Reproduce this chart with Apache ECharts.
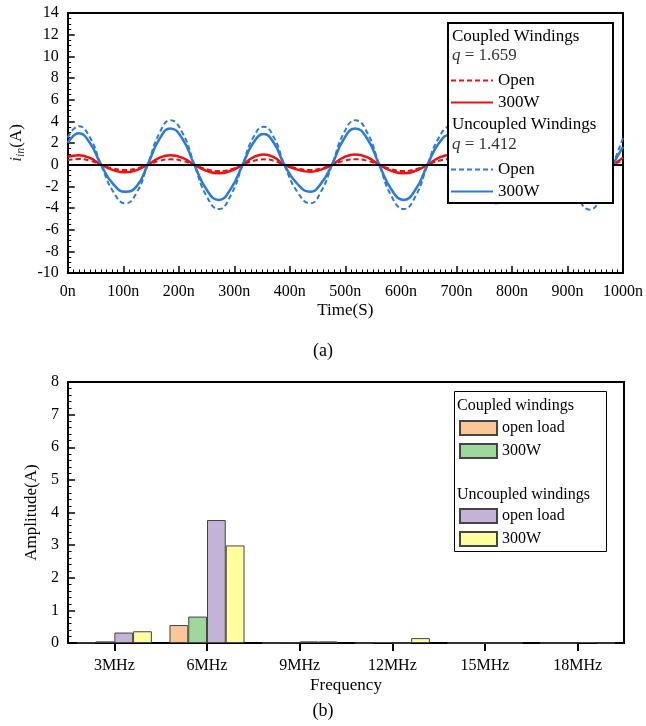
<!DOCTYPE html>
<html>
<head>
<meta charset="utf-8">
<script src="https://cdn.jsdelivr.net/npm/echarts@6/dist/echarts.min.js"></script>
<style>
  html, body { margin: 0; padding: 0; background: #fff; }
  #chart { width: 646px; height: 726px; }
</style>
</head>
<body>
<div id="chart"></div>
<script>
// (a) input current waveforms (time in ns, current in A)
const timeNs = [0, 20, 40, 60, 82, 104, 124, 144, 165, 185, 207, 228, 250, 272, 294, 315, 334, 353, 372, 390,
  414, 437, 456, 476, 497, 518, 540, 561, 583, 605, 627, 648, 668, 688, 708, 728, 749, 770, 792, 815,
  834, 852, 874, 895, 918, 940, 961, 982, 1000];
const coupledOpen = [0.42, 0.52, 0.37, 0, -0.35, -0.5, -0.35, 0, 0.35, 0.49, 0.35, 0, -0.42, -0.59, -0.42, 0, 0.35, 0.49, 0.35, 0,
  -0.35, -0.5, -0.35, 0, 0.35, 0.5, 0.35, 0, -0.42, -0.59, -0.42, 0, 0.35, 0.5, 0.35, 0, -0.35, -0.5, -0.35, 0,
  0.35, 0.5, 0.35, 0, -0.42, -0.59, -0.42, 0, 0.42];
const coupled300W = [0.73, 0.88, 0.62, 0, -0.5, -0.71, -0.5, 0, 0.62, 0.88, 0.62, 0, -0.57, -0.8, -0.56, 0, 0.67, 0.95, 0.67, 0,
  -0.46, -0.65, -0.46, 0, 0.67, 0.95, 0.67, 0, -0.57, -0.8, -0.56, 0, 0.63, 0.9, 0.63, 0, -0.5, -0.7, -0.5, 0,
  0.63, 0.9, 0.63, 0, -0.57, -0.8, -0.56, 0, 0.65];
const uncoupledOpen = [2.5, 3.55, 2.5, 0, -2.5, -3.57, -2.6, 0, 2.9, 4.1, 2.9, 0, -2.9, -4.1, -2.8, 0, 2.5, 3.5, 2.45, 0,
  -2.55, -3.57, -2.5, 0, 2.9, 4.1, 2.9, 0, -2.9, -4.1, -2.85, 0, 2.45, 3.5, 2.45, 0, -2.5, -3.57, -2.5, 0,
  2.9, 4.1, 2.9, 0, -2.9, -4.15, -2.9, 0, 2.45];
const uncoupled300W = [2.0, 2.9, 2.0, 0, -1.8, -2.5, -2.0, 0, 2.35, 3.35, 2.35, 0, -2.3, -3.26, -2.2, 0, 2.0, 2.82, 1.95, 0,
  -1.8, -2.5, -1.75, 0, 2.35, 3.35, 2.35, 0, -2.3, -3.25, -2.25, 0, 1.95, 2.75, 1.95, 0, -1.8, -2.5, -1.8, 0,
  2.3, 3.3, 2.3, 0, -2.3, -3.26, -2.3, 0, 1.65];
const timeTicks = [0, 1000, 100];
const currentTicks = [-10, 14, 2];

// (b) harmonic amplitudes
const freqLabels = ['3MHz', '6MHz', '9MHz', '12MHz', '15MHz', '18MHz'];
const ampCoupledOpen = [0.01, 0.55, 0.0, 0.0, 0.0, 0.0];
const ampCoupled300W = [0.05, 0.81, 0.01, 0.03, 0.0, 0.0];
const ampUncoupledOpen = [0.32, 3.77, 0.05, 0.0, 0.0, 0.03];
const ampUncoupled300W = [0.36, 2.99, 0.05, 0.15, 0.0, 0.0];
const ampTicks = [0, 8, 1];

const legendNames = {
  cOpen: 'Open', c300: '300W', uOpen: 'Open', u300: '300W',
  bcOpen: 'open load', bc300: '300W', buOpen: 'open load', bu300: '300W'
};

const FONT = '"Liberation Serif", "Times New Roman", serif';
const RED = '#ee1111';
const BLUE = '#2a7bd9';
const pairs = ys => timeNs.map((t, i) => [t, ys[i]]);

const frameX = (grid, min, max) => ({
  gridIndex: grid, position: 'top', type: grid === 0 ? 'value' : 'category',
  min: grid === 0 ? min : undefined, max: grid === 0 ? max : undefined,
  data: grid === 1 ? freqLabels : undefined,
  axisLine: { show: true, onZero: false, lineStyle: { color: '#000', width: 2 } },
  axisTick: { show: false }, axisLabel: { show: false }, splitLine: { show: false }
});
const frameY = (grid, min, max) => ({
  gridIndex: grid, position: 'right', type: 'value', min: min, max: max,
  axisLine: { show: true, onZero: false, lineStyle: { color: '#000', width: 2 } },
  axisTick: { show: false }, axisLabel: { show: false }, splitLine: { show: false }
});

// line legends: hide the symbol dot, keep only the (dashed) line
const lineLegend = (names, top) => ({
  data: names, orient: 'vertical', left: 450, top: top, padding: 0, z: 50,
  itemWidth: 42, itemHeight: 14, itemGap: 5, itemStyle: { opacity: 0 },
  textStyle: { fontFamily: FONT, fontSize: 17, color: '#000' },
  formatter: n => legendNames[n], selectedMode: false
});
const barLegend = (names, top) => ({
  data: names, orient: 'vertical', left: 459, top: top, padding: 0, z: 50,
  itemWidth: 37, itemHeight: 14, itemGap: 7, icon: 'rect',
  textStyle: { fontFamily: FONT, fontSize: 16, color: '#000' },
  formatter: n => legendNames[n], selectedMode: false
});

const txt = (text, x, y, size, extra) => ({
  type: 'text', z: 50, x: x, y: y,
  style: Object.assign({ text: text, fontFamily: FONT, fontSize: size, fill: '#000', verticalAlign: 'middle' }, extra || {})
});

const option = {
  backgroundColor: '#fff',
  animation: false,
  grid: [
    { left: 49, right: 22, top: 13, height: 260 },
    { left: 68, right: 22, top: 382, height: 261 }
  ],
  xAxis: [
    {
      gridIndex: 0, type: 'value', min: timeTicks[0], max: timeTicks[1], interval: timeTicks[2],
      axisLine: { show: true, onZero: false, lineStyle: { color: '#000', width: 2 } },
      axisTick: { show: true, inside: true, length: 7, lineStyle: { color: '#000', width: 1.5 } },
      minorTick: { show: true, splitNumber: 10, length: 3.5, lineStyle: { color: '#000', width: 1 } },
      splitLine: { show: false },
      axisLabel: { formatter: v => v + 'n', fontFamily: FONT, fontSize: 16, color: '#000', margin: 11, showMinLabel: true, showMaxLabel: true },
      name: 'Time(S)', nameLocation: 'middle', nameGap: 29,
      nameTextStyle: { fontFamily: FONT, fontSize: 17, color: '#000' }
    },
    frameX(0, timeTicks[0], timeTicks[1]),
    {
      gridIndex: 1, type: 'category', data: freqLabels, boundaryGap: true,
      axisLine: { show: true, onZero: false, lineStyle: { color: '#000', width: 2 } },
      axisTick: { show: true, alignWithLabel: true, length: 8, lineStyle: { color: '#000', width: 2 } },
      splitLine: { show: false },
      axisLabel: { fontFamily: FONT, fontSize: 16, color: '#000', margin: 15 },
      name: 'Frequency', nameLocation: 'middle', nameGap: 34,
      nameTextStyle: { fontFamily: FONT, fontSize: 17, color: '#000' }
    },
    frameX(1)
  ],
  yAxis: [
    {
      gridIndex: 0, type: 'value', min: currentTicks[0], max: currentTicks[1], interval: currentTicks[2],
      axisLine: { show: true, onZero: false, lineStyle: { color: '#000', width: 2 } },
      axisTick: { show: true, inside: true, length: 7, lineStyle: { color: '#000', width: 1.5 } },
      minorTick: { show: true, splitNumber: 4, length: 3.5, lineStyle: { color: '#000', width: 1 } },
      splitLine: { show: false },
      axisLabel: { fontFamily: FONT, fontSize: 16, color: '#000', margin: 9 },
      name: '{i|i}{s|in}{n|(A)}', nameLocation: 'middle', nameGap: 26,
      nameTextStyle: {
        color: '#000',
        rich: {
          i: { fontFamily: FONT, fontSize: 17, fontStyle: 'italic', color: '#333' },
          s: { fontFamily: FONT, fontSize: 12, fontStyle: 'italic', color: '#333', verticalAlign: 'bottom', padding: [8, 0, 0, 0] },
          n: { fontFamily: FONT, fontSize: 17, color: '#000' }
        }
      }
    },
    frameY(0, currentTicks[0], currentTicks[1]),
    {
      gridIndex: 1, type: 'value', min: ampTicks[0], max: ampTicks[1], interval: ampTicks[2],
      axisLine: { show: true, onZero: false, lineStyle: { color: '#000', width: 2 } },
      axisTick: { show: true, inside: true, length: 7, lineStyle: { color: '#000', width: 1.5 } },
      minorTick: { show: true, splitNumber: 5, length: 3.5, lineStyle: { color: '#000', width: 1 } },
      splitLine: { show: false },
      axisLabel: { fontFamily: FONT, fontSize: 16, color: '#000', margin: 9 },
      name: 'Amplitude(A)', nameLocation: 'middle', nameGap: 25,
      nameTextStyle: { fontFamily: FONT, fontSize: 17, color: '#000' }
    },
    frameY(1, ampTicks[0], ampTicks[1])
  ],
  legend: [
    lineLegend(['cOpen', 'c300'], 72),
    lineLegend(['uOpen', 'u300'], 161),
    barLegend(['bcOpen', 'bc300'], 420),
    barLegend(['buOpen', 'bu300'], 508)
  ],
  graphic: [
    { type: 'rect', z: 40, shape: { x: 448, y: 23, width: 165, height: 180 }, style: { fill: '#fff', stroke: '#000', lineWidth: 2 } },
    txt('Coupled Windings', 452, 37, 17),
    txt('{q|q} = 1.659', 452, 56, 17, { fill: '#333', rich: { q: { fontStyle: 'italic', fontFamily: FONT, fontSize: 17, fill: '#333' } } }),
    txt('Uncoupled Windings', 452, 125, 17),
    txt('{q|q} = 1.412', 452, 145, 17, { fill: '#333', rich: { q: { fontStyle: 'italic', fontFamily: FONT, fontSize: 17, fill: '#333' } } }),
    { type: 'rect', z: 40, shape: { x: 454.5, y: 391.5, width: 152, height: 160 }, style: { fill: '#fff', stroke: '#000', lineWidth: 1 } },
    txt('Coupled windings', 457, 406, 16),
    txt('Uncoupled windings', 457, 495, 16),
    txt('(a)', 323, 351, 18, { align: 'center' }),
    txt('(b)', 323, 711, 18, { align: 'center' })
  ],
  series: [
    {
      name: 'cOpen', type: 'line', xAxisIndex: 0, yAxisIndex: 0, data: pairs(coupledOpen),
      symbol: 'none', smooth: true, z: 3,
      lineStyle: { color: RED, width: 2, type: [5, 3] }, itemStyle: { color: RED },
      markLine: {
        silent: true, symbol: 'none', label: { show: false },
        lineStyle: { color: '#000', width: 2, type: 'solid' }, data: [{ yAxis: 0 }]
      }
    },
    {
      name: 'c300', type: 'line', xAxisIndex: 0, yAxisIndex: 0, data: pairs(coupled300W),
      symbol: 'none', smooth: true, z: 3,
      lineStyle: { color: RED, width: 2.5 }, itemStyle: { color: RED }
    },
    {
      name: 'uOpen', type: 'line', xAxisIndex: 0, yAxisIndex: 0, data: pairs(uncoupledOpen),
      symbol: 'none', smooth: true, z: 4,
      lineStyle: { color: BLUE, width: 2, type: [5, 3] }, itemStyle: { color: BLUE }
    },
    {
      name: 'u300', type: 'line', xAxisIndex: 0, yAxisIndex: 0, data: pairs(uncoupled300W),
      symbol: 'none', smooth: true, z: 4,
      lineStyle: { color: BLUE, width: 2.5 }, itemStyle: { color: BLUE }
    },
    {
      name: 'bcOpen', type: 'bar', xAxisIndex: 2, yAxisIndex: 2, data: ampCoupledOpen,
      barGap: '0%', barCategoryGap: '19%',
      itemStyle: { color: '#fcc796', borderColor: '#444', borderWidth: 1 }
    },
    {
      name: 'bc300', type: 'bar', xAxisIndex: 2, yAxisIndex: 2, data: ampCoupled300W,
      barGap: '0%', barCategoryGap: '19%',
      itemStyle: { color: '#9fd79d', borderColor: '#444', borderWidth: 1 }
    },
    {
      name: 'buOpen', type: 'bar', xAxisIndex: 2, yAxisIndex: 2, data: ampUncoupledOpen,
      barGap: '0%', barCategoryGap: '19%',
      itemStyle: { color: '#c2b3d7', borderColor: '#444', borderWidth: 1 }
    },
    {
      name: 'bu300', type: 'bar', xAxisIndex: 2, yAxisIndex: 2, data: ampUncoupled300W,
      barGap: '0%', barCategoryGap: '19%',
      itemStyle: { color: '#ffff9e', borderColor: '#444', borderWidth: 1 }
    }
  ]
};

const chart = echarts.init(document.getElementById('chart'), null, { renderer: 'canvas' });
chart.setOption(option);
</script>
</body>
</html>
